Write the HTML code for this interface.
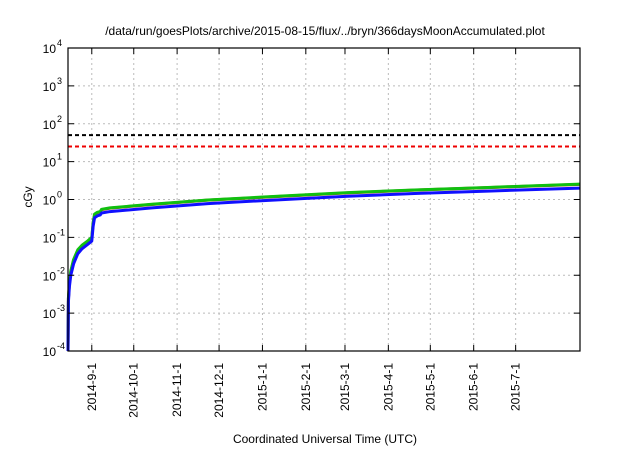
<!DOCTYPE html>
<html><head><meta charset="utf-8"><style>
body{margin:0;background:#fff;}
svg text{font-family:"Liberation Sans",sans-serif;fill:#000;}
</style></head><body>
<svg id="chart" width="640" height="448" xmlns="http://www.w3.org/2000/svg">
<text x="325" y="35" font-size="12" text-anchor="middle">/data/run/goesPlots/archive/2015-08-15/flux/../bryn/366daysMoonAccumulated.plot</text>
<text x="325" y="443" font-size="12" text-anchor="middle">Coordinated Universal Time (UTC)</text>
<text transform="translate(32,197) rotate(-90)" font-size="12" text-anchor="middle">cGy</text>
<g id="grid"></g><g id="marks"></g><g id="axes"></g>
</svg>
<script>
const xTickLabels=["2014-9-1","2014-10-1","2014-11-1","2014-12-1","2015-1-1","2015-2-1","2015-3-1","2015-4-1","2015-5-1","2015-6-1","2015-7-1"];
const xTickDays=[17,47,78,108,139,170,198,229,259,290,320];
const yTickExps=[-4,-3,-2,-1,0,1,2,3,4];
const days=[0,0.3,1,2,4,7,10,14,17,18,19,21,23,24,30,60,100,150,200,250,300,366];
const blueVals=[1e-4,2e-3,0.005,0.01,0.02,0.037,0.05,0.065,0.08,0.2,0.33,0.37,0.39,0.44,0.48,0.6,0.78,0.98,1.22,1.45,1.67,2.0];
const greenVals=[1e-4,2.5e-3,0.006,0.013,0.026,0.047,0.062,0.08,0.1,0.25,0.41,0.46,0.48,0.55,0.6,0.75,0.97,1.22,1.52,1.8,2.08,2.55];
const redVals=[1e-4,2.4e-3,0.006,0.012,0.025,0.045,0.06,0.078,0.097,0.24,0.4,0.45,0.47,0.54,0.59,0.74,0.96,1.2,1.5,1.78,2.06,2.5];
const thresholds=[50,25];
const L=68,R=580,T=48,B=351,NDAYS=366;
const NS="http://www.w3.org/2000/svg";
const xs=d=>L+(R-L)*d/NDAYS;
const ys=v=>B-(B-T)*(Math.log10(v)+4)/8;
function mk(tag,attrs,parent){const e=document.createElementNS(NS,tag);for(const k in attrs)e.setAttribute(k,attrs[k]);parent.appendChild(e);return e;}
const grid=document.getElementById('grid'),marks=document.getElementById('marks'),axes=document.getElementById('axes');
yTickExps.forEach(e=>{const y=ys(Math.pow(10,e));
 if(e>-4&&e<4){const g=mk('line',{x1:L,x2:R,y1:y,y2:y,stroke:'#bbb','stroke-dasharray':'2,3','stroke-width':1},grid);
 }
 const t=mk('line',{x1:L,x2:L+6,y1:y,y2:y,stroke:'#000'},axes);
 const t2=mk('line',{x1:R,x2:R-6,y1:y,y2:y,stroke:'#000'},axes);
 const tx=mk('text',{x:56,y:y+5,'font-size':12,'text-anchor':'end'},axes);tx.textContent='10';
 
 const sp=mk('text',{x:57,y:y-2,'font-size':9},axes);sp.textContent=String(e);
 
});
xTickDays.forEach((d,i)=>{const x=xs(d);
 const g=mk('line',{x1:x,x2:x,y1:T,y2:B,stroke:'#bbb','stroke-dasharray':'2,3'},grid);
 const t=mk('line',{x1:x,x2:x,y1:B,y2:B-6,stroke:'#000'},axes);
 const t2=mk('line',{x1:x,x2:x,y1:T,y2:T+6,stroke:'#000'},axes);
 const tx=mk('text',{transform:`translate(${x+4},${B+12}) rotate(-90)`,'font-size':12,'text-anchor':'end'},axes);tx.textContent=xTickLabels[i];
 
});
const thrColors=['#000','#e00'];
thresholds.forEach((v,i)=>{const y=ys(v);
 const l=mk('line',{x1:L,x2:R,y1:y,y2:y,stroke:thrColors[i],'stroke-width':2,'stroke-dasharray':'4,3'},marks);
 
});
[[redVals,'#e02020','red-series'],[greenVals,'#10c010','green-series'],[blueVals,'#1010ff','blue-series']].forEach(([vals,c,n])=>{
 const p=mk('polyline',{points:days.map((d,i)=>xs(d)+','+ys(vals[i])).join(' '),fill:'none',stroke:c,'stroke-width':3,'stroke-linejoin':'round'},marks);
 
});
const fr=mk('rect',{x:L,y:T,width:R-L,height:B-T,fill:'none',stroke:'#000','stroke-width':1.2},axes);

</script>
</body></html>
